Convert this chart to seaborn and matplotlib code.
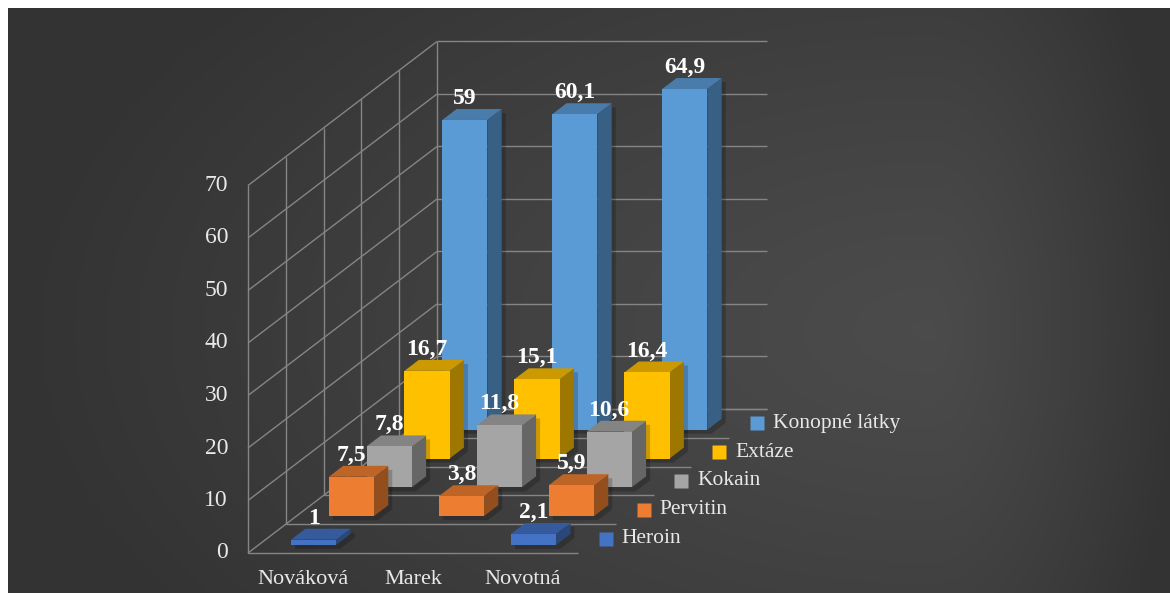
import numpy as np
import matplotlib
matplotlib.use("Agg")
import matplotlib.pyplot as plt
import seaborn as sns
from matplotlib.patches import Polygon

# ---- data -------------------------------------------------------------
categories = ["Nováková", "Marek", "Novotná"]
series = ["Heroin", "Pervitin", "Kokain", "Extáze", "Konopné látky"]
heroin = [1.0, np.nan, 2.1]
pervitin = [7.5, 3.8, 5.9]
kokain = [7.8, 11.8, 10.6]
extaze = [16.7, 15.1, 16.4]
konopne = [59.0, 60.1, 64.9]
y_ticks = [0, 10, 20, 30, 40, 50, 60, 70]

values = [heroin, pervitin, kokain, extaze, konopne]

sns.set_theme(style="dark")
palette = sns.color_palette(["#4472C4", "#ED7D31", "#A5A5A5", "#FFC000", "#5B9BD5"])
plt.rcParams["font.family"] = ["Liberation Serif", "DejaVu Serif"]

# ---- oblique 3-D projection -------------------------------------------
DX, DY = 0.3436, 5.486      # shift of one series row (category units, value units)
W = 0.41                    # bar width in category units
D0, D1 = 0.28, 0.66         # bar front / back inside a series row
NROWS = len(series)
NCAT = len(categories)
VMAX = y_ticks[-1]


def P(x, d, v):
    return (x + d * DX, v + d * DY)


def shade(c, f):
    return tuple(min(1, max(0, ch * f)) for ch in c)


W_PX, H_PX = 1170, 593
fig = plt.figure(figsize=(W_PX / 100, H_PX / 100), dpi=100)
fig.patch.set_facecolor("white")

# dark background, lightest a little right of the centre
bg = fig.add_axes([8 / W_PX, 0, 1 - 8 / W_PX, (H_PX - 8) / H_PX])
yy, xx = np.mgrid[0:585, 0:1162].astype(float)
cx, cy = 922, 322
dx = np.where(xx < cx, (xx - cx) / 920, (xx - cx) / 250)
dy = (yy - cy) / 520
t = np.clip(np.hypot(dx, dy), 0, 1)
lo, hi = 0.20, 0.295
lum = hi - (hi - lo) * t ** 1.2
img = np.dstack([lum, lum, lum])
bg.imshow(img, aspect="auto", interpolation="bilinear")
bg.set_axis_off()

ax = fig.add_axes([0, 0, 1, 1])
ax.patch.set_alpha(0)
ax.set_xlim(-248 / 110, (W_PX - 248) / 110)
ax.set_ylim(-(H_PX - 553) / 5.25, 553 / 5.25)
ax.set_axis_off()

grid_kw = dict(color="#858585", lw=1.0, zorder=1, solid_capstyle="butt")
# left wall
for v in y_ticks:
    (x0, y0), (x1, y1) = P(0, 0, v), P(0, NROWS, v)
    ax.plot([x0, x1], [y0, y1], **grid_kw)
for k in range(NROWS + 1):
    (x0, y0), (x1, y1) = P(0, k, 0), P(0, k, VMAX)
    ax.plot([x0, x1], [y0, y1], **grid_kw)
# back wall
for v in y_ticks:
    (x0, y0), (x1, y1) = P(0, NROWS, v), P(NCAT, NROWS, v)
    ax.plot([x0, x1], [y0, y1], **grid_kw)
# floor
for k in range(NROWS + 1):
    (x0, y0), (x1, y1) = P(0, k, 0), P(NCAT, k, 0)
    ax.plot([x0, x1], [y0, y1], **grid_kw)

text_col = "#e8e8e8"
# value axis labels
for v in y_ticks:
    x0, y0 = P(0, 0, v)
    ax.text(x0 - 20 / 110, y0, str(v), ha="right", va="center",
            fontsize=17, color=text_col, zorder=5)
# category labels
for i, c in enumerate(categories):
    x0, y0 = P(i + 0.5, 0, 0)
    ax.text(x0, y0 - 26 / 5.25, c, ha="center", va="center",
            fontsize=16, color=text_col, zorder=5)

# bars, back rows first
labels = []
for k in reversed(range(NROWS)):
    base = palette[k]
    z = 3 + (NROWS - k) * 3
    for i, v in enumerate(values[k]):
        if np.isnan(v):
            continue
        xl = i + 0.5 - W / 2
        xr = xl + W
        front = [P(xl, k + D0, 0), P(xr, k + D0, 0), P(xr, k + D0, v), P(xl, k + D0, v)]
        side = [P(xr, k + D0, 0), P(xr, k + D1, 0), P(xr, k + D1, v), P(xr, k + D0, v)]
        top = [P(xl, k + D0, v), P(xr, k + D0, v), P(xr, k + D1, v), P(xl, k + D1, v)]
        # soft drop shadow
        outline = [front[0], front[1], side[1], side[2], top[3], front[3]]
        sh = [(x + 4 / 110, y - 4 / 5.25) for x, y in outline]
        ax.add_patch(Polygon(sh, closed=True, fc="black", ec="none", alpha=0.2, zorder=z - 1))
        ax.add_patch(Polygon(side, closed=True, fc=shade(base, 0.62), ec="none", zorder=z))
        ax.add_patch(Polygon(top, closed=True, fc=shade(base, 0.80), ec="none", zorder=z))
        ax.add_patch(Polygon(front, closed=True, fc=base, ec="none", zorder=z))
        lx = (front[0][0] + front[1][0]) / 2
        ly = top[2][1]
        labels.append((lx, ly, f"{v:g}".replace(".", ",")))

for lx, ly, txt in labels:
    ax.annotate(txt, xy=(lx, ly), xytext=(0, 5), textcoords="offset pixels",
                ha="center", va="baseline", fontsize=17, fontweight="bold",
                color="white", zorder=40)

# series names along the depth axis
for k, name in enumerate(series):
    x0, y0 = P(NCAT, k + 0.5, 0)
    ax.plot([x0 + 9 / 110], [y0], marker="s", ms=9.5, color=palette[k],
            mec="none", ls="none", zorder=30)
    ax.text(x0 + 25 / 110, y0, name, ha="left", va="center",
            fontsize=15.5, color=text_col, zorder=30)

fig.savefig("out.png", dpi=100, facecolor=fig.get_facecolor())
